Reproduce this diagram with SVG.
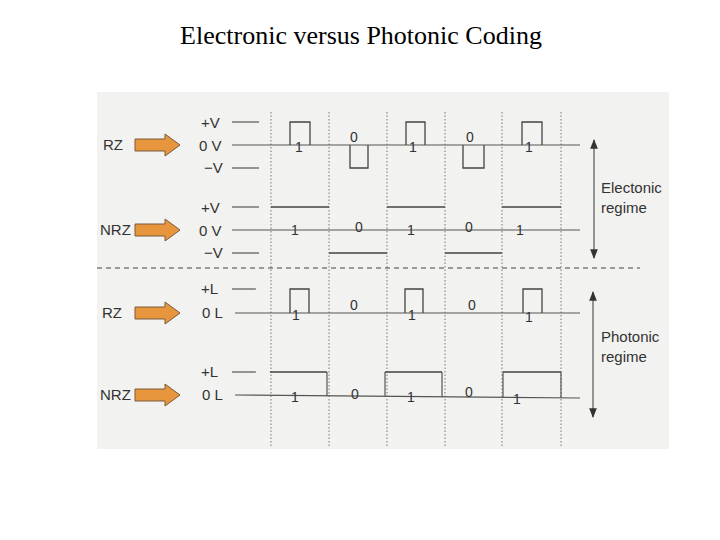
<svg xmlns="http://www.w3.org/2000/svg" width="720" height="540" viewBox="0 0 720 540">
<defs>
<marker id="ah" viewBox="0 0 10 10" refX="9" refY="5" markerWidth="8" markerHeight="8" orient="auto-start-reverse"><path d="M0,1 L10,5 L0,9 z" fill="#333"/></marker>
<path id="oa" d="M0,-6 H30 V-11 L45,0 L30,11 V6 H0 z" fill="#e8963e" stroke="#7a5a3a" stroke-width="1"/>
</defs>
<style>
.t{font-family:"Liberation Sans",Arial,sans-serif;fill:#333}
.lb{font-size:15px}
.bit{font-size:14px}
.w{fill:none;stroke:#444;stroke-width:1.3}
.ax{stroke:#555;stroke-width:1.2}
.dot{stroke:#777;stroke-width:1;stroke-dasharray:1.5 2}
</style>
<rect width="720" height="540" fill="#fff"/>
<text x="361" y="44" text-anchor="middle" font-family="Liberation Serif,serif" font-size="26">Electronic versus Photonic Coding</text>
<rect x="97" y="92" width="572" height="357" fill="#f2f2f0"/>
<g id="grid">
<line class="dot" x1="271" y1="112" x2="271" y2="448"/>
<line class="dot" x1="329" y1="112" x2="329" y2="448"/>
<line class="dot" x1="387" y1="112" x2="387" y2="448"/>
<line class="dot" x1="445" y1="112" x2="445" y2="448"/>
<line class="dot" x1="502" y1="112" x2="502" y2="448"/>
<line class="dot" x1="561" y1="112" x2="561" y2="448"/>
<line x1="97" y1="268" x2="640" y2="268" stroke="#444" stroke-width="1.2" stroke-dasharray="5 4"/>
</g>
<g id="e-rz">
<use href="#oa" x="135" y="145"/>
<text class="t lb" x="103" y="150">RZ</text>
<text class="t lb" x="201" y="128">+V</text><line class="ax" x1="232" y1="122" x2="259" y2="122"/>
<text class="t lb" x="199" y="151">0 V</text>
<text class="t lb" x="204" y="173">−V</text><line class="ax" x1="232" y1="168" x2="259" y2="168"/>
<line class="ax" x1="232" y1="145" x2="580" y2="145"/>
<path class="w" d="M290,145 V122 H310 V145 M350,145 V168 H368 V145 M406,145 V122 H425 V145 M463,145 V168 H484 V145 M522,145 V122 H542 V145"/>
<text class="t bit" x="295" y="152">1</text><text class="t bit" x="350" y="142">0</text>
<text class="t bit" x="409" y="152">1</text><text class="t bit" x="466" y="142">0</text><text class="t bit" x="525" y="152">1</text>
</g>
<g id="e-nrz">
<use href="#oa" x="135" y="230"/>
<text class="t lb" x="100" y="235">NRZ</text>
<text class="t lb" x="201" y="213">+V</text><line class="ax" x1="232" y1="207" x2="259" y2="207"/>
<text class="t lb" x="199" y="236">0 V</text>
<text class="t lb" x="204" y="258">−V</text><line class="ax" x1="232" y1="253" x2="259" y2="253"/>
<line class="ax" x1="232" y1="230" x2="580" y2="230"/>
<path class="w" d="M271,207 H329 M329,253 H387 M387,207 H445 M445,253 H502 M502,207 H561"/>
<text class="t bit" x="291" y="235">1</text><text class="t bit" x="355" y="232">0</text>
<text class="t bit" x="407" y="235">1</text><text class="t bit" x="465" y="232">0</text><text class="t bit" x="516" y="235">1</text>
</g>
<g id="p-rz">
<use href="#oa" x="135" y="313"/>
<text class="t lb" x="102" y="318">RZ</text>
<text class="t lb" x="201" y="294">+L</text><line class="ax" x1="232" y1="289" x2="256" y2="289"/>
<text class="t lb" x="202" y="318">0 L</text>
<line class="ax" x1="235" y1="313" x2="580" y2="313"/>
<path class="w" d="M290,313 V289 H309 V313 M405,313 V289 H423 V313 M523,313 V289 H542 V313"/>
<text class="t bit" x="292" y="320">1</text><text class="t bit" x="350" y="310">0</text>
<text class="t bit" x="408" y="320">1</text><text class="t bit" x="468" y="310">0</text><text class="t bit" x="525" y="322">1</text>
</g>
<g id="p-nrz">
<use href="#oa" x="135" y="395"/>
<text class="t lb" x="100" y="400">NRZ</text>
<text class="t lb" x="201" y="377">+L</text><line class="ax" x1="232" y1="372" x2="256" y2="372"/>
<text class="t lb" x="202" y="400">0 L</text>
<line class="ax" x1="235" y1="395" x2="580" y2="398"/>
<path class="w" d="M270,372 H327 M385,372 H442 M503,372 H561"/>
<line class="ax" x1="327" y1="372" x2="327" y2="396"/><line class="ax" x1="385" y1="372" x2="385" y2="396"/>
<line class="ax" x1="442" y1="372" x2="442" y2="397"/><line class="ax" x1="503" y1="372" x2="503" y2="397"/>
<line class="ax" x1="561" y1="372" x2="561" y2="398"/>
<text class="t bit" x="291" y="402">1</text><text class="t bit" x="351" y="399">0</text>
<text class="t bit" x="407" y="402">1</text><text class="t bit" x="465" y="397">0</text><text class="t bit" x="513" y="404">1</text>
</g>
<g id="regimes">
<line class="ax" x1="594" y1="140" x2="594" y2="258" marker-start="url(#ah)" marker-end="url(#ah)"/>
<text class="t lb" x="601" y="193">Electonic</text><text class="t lb" x="601" y="213">regime</text>
<line class="ax" x1="593" y1="292" x2="593" y2="417" marker-start="url(#ah)" marker-end="url(#ah)"/>
<text class="t lb" x="601" y="342">Photonic</text><text class="t lb" x="601" y="362">regime</text>
</g>
</svg>
